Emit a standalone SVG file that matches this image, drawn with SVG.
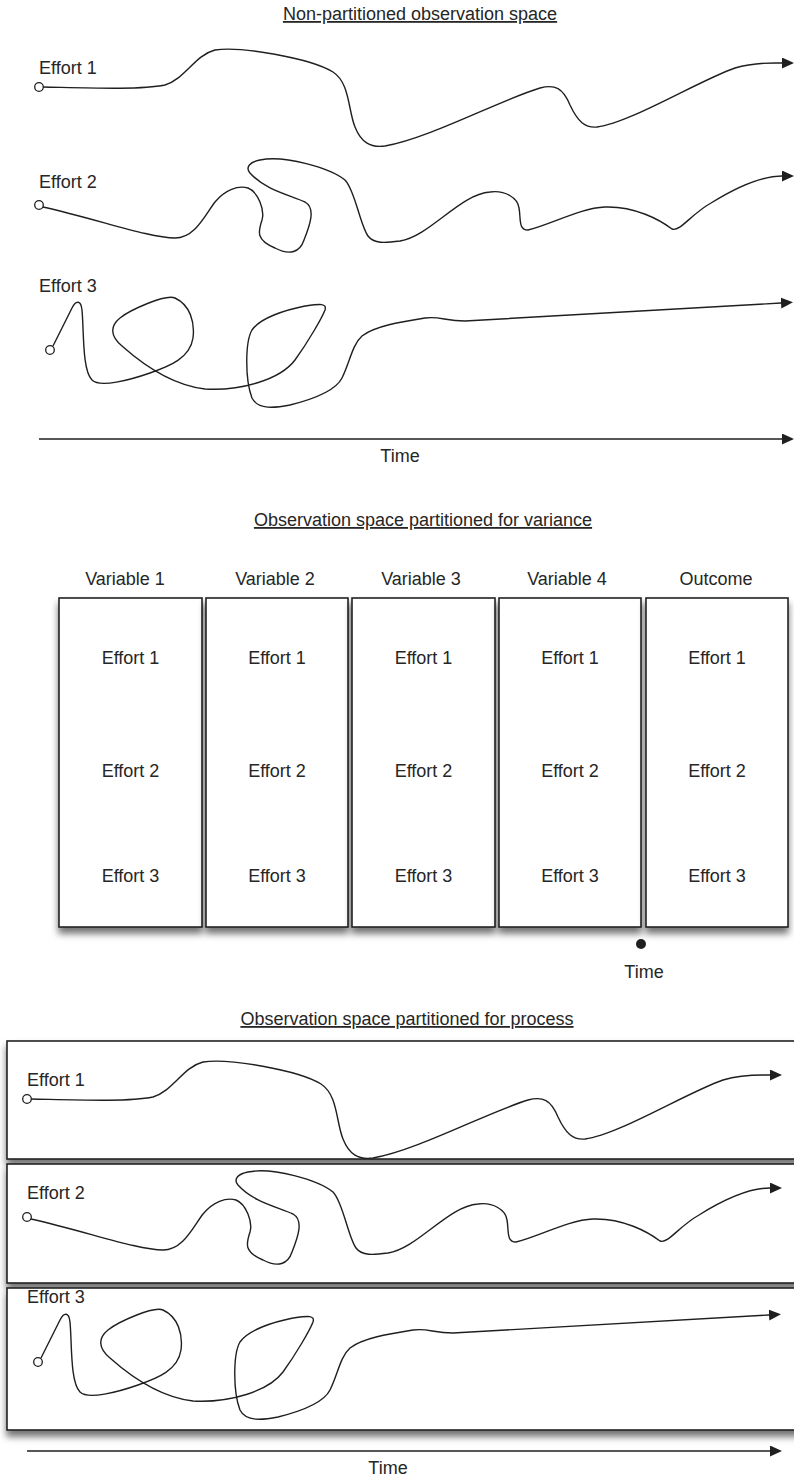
<svg xmlns="http://www.w3.org/2000/svg" xmlns:xlink="http://www.w3.org/1999/xlink" width="794" height="1482" viewBox="0 0 794 1482">
<style>
  text { font-family: "Liberation Sans", Arial, sans-serif; font-size: 18px; fill: #262626; }
  .c { text-anchor: middle; }
  .title { text-anchor: middle; text-decoration: underline; }
  .curve { fill: none; stroke: #1f1f1f; stroke-width: 1.4; stroke-linejoin: round; }
  .arr { marker-end: url(#ah); }
  .start { fill: #fff; stroke: #1f1f1f; stroke-width: 1.3; }
  .box { fill: #fff; stroke: #242424; stroke-width: 1.6; filter: url(#sh); }
</style>
<defs>
  <marker id="ah" markerUnits="userSpaceOnUse" markerWidth="14" markerHeight="12" refX="0" refY="5.5" orient="auto">
    <path d="M0,0 L12,5.5 L0,11 Z" fill="#1f1f1f"/>
  </marker>
  <filter id="sh" x="-5%" y="-5%" width="110%" height="125%">
    <feDropShadow dx="0" dy="6" stdDeviation="3.5" flood-color="#000" flood-opacity="0.55"/>
  </filter>
  <path id="p1" d="M43,87 C90,88 140,90 165,85 C185,79 195,55 215,50 C240,46 310,58 333,72 C350,83 348,110 355,127 C361,142 370,148 385,146 C430,138 500,100 540,88 C555,84 563,88 570,105 C578,122 585,128 597,127 C630,123 700,80 735,68 C755,62 770,63 782,63"/>
  <path id="p2" d="M43,207 C100,220 150,238 175,238 C195,238 205,215 215,202 C225,190 238,185 248,188 C258,192 265,210 262,220 C258,232 256,240 275,248 C290,256 300,252 304,240 C310,225 316,208 305,202 C290,195 265,190 250,173 C245,167 250,162 260,160 C285,155 330,168 345,180 C355,190 360,225 368,236 C374,244 385,243 400,241 C430,236 460,194 490,192 C505,190 518,198 519,208 C521,218 518,230 528,230 C550,225 580,208 605,207 C635,206 660,220 672,229 C680,232 690,215 711,203 C735,188 760,176 782,176"/>
  <path id="p3" d="M53,346 L72,308 C76,300 81,300 82,310 C84,330 82,370 92,380 C100,388 130,380 150,373 C170,366 190,358 193,338 C195,322 190,305 175,298 C165,294 130,310 120,318 C110,326 110,336 122,346 C140,362 170,385 205,389 C240,391 280,380 295,360 C308,342 322,318 325,310 C327,303 320,304 305,306 C285,310 260,318 252,330 C245,342 245,380 252,398 C258,410 275,408 290,405 C310,400 335,392 342,378 C350,362 352,345 362,336 C375,326 400,322 425,318 C440,316 445,321 465,321 L781,303"/>
</defs>
<rect width="794" height="1482" fill="#fff"/>

<!-- ===== Top section: non-partitioned ===== -->
<g id="top-title"><text class="title" x="420" y="20">Non-partitioned observation space</text></g>
<g id="top-effort-1"><text x="39" y="74">Effort 1</text></g>
<g id="top-effort-2"><text x="39" y="188">Effort 2</text></g>
<g id="top-effort-3"><text x="39" y="292">Effort 3</text></g>
<g id="top-connectors">
  <use xlink:href="#p1" class="curve arr"/>
  <use xlink:href="#p2" class="curve arr"/>
  <use xlink:href="#p3" class="curve arr"/>
  <line class="curve arr" x1="39" y1="439" x2="782" y2="439"/>
  <circle class="start" cx="39" cy="87" r="4.3"/>
  <circle class="start" cx="39" cy="205" r="4.3"/>
  <circle class="start" cx="50" cy="350" r="4.3"/>
</g>
<g id="top-time"><text class="c" x="400" y="462">Time</text></g>

<!-- ===== Middle section: partitioned for variance ===== -->
<g id="mid-title"><text class="title" x="423" y="526">Observation space partitioned for variance</text></g>
<g id="col-variable-1">
  <text class="c" x="125" y="585">Variable 1</text>
  <rect class="box" x="59" y="598" width="143" height="329"/>
  <text class="c" x="130.5" y="664">Effort 1</text>
  <text class="c" x="130.5" y="777">Effort 2</text>
  <text class="c" x="130.5" y="882">Effort 3</text>
</g>
<g id="col-variable-2">
  <text class="c" x="275" y="585">Variable 2</text>
  <rect class="box" x="206" y="598" width="142" height="329"/>
  <text class="c" x="277" y="664">Effort 1</text>
  <text class="c" x="277" y="777">Effort 2</text>
  <text class="c" x="277" y="882">Effort 3</text>
</g>
<g id="col-variable-3">
  <text class="c" x="421" y="585">Variable 3</text>
  <rect class="box" x="352" y="598" width="143" height="329"/>
  <text class="c" x="423.5" y="664">Effort 1</text>
  <text class="c" x="423.5" y="777">Effort 2</text>
  <text class="c" x="423.5" y="882">Effort 3</text>
</g>
<g id="col-variable-4">
  <text class="c" x="567" y="585">Variable 4</text>
  <rect class="box" x="499" y="598" width="142" height="329"/>
  <text class="c" x="570" y="664">Effort 1</text>
  <text class="c" x="570" y="777">Effort 2</text>
  <text class="c" x="570" y="882">Effort 3</text>
</g>
<g id="col-outcome">
  <text class="c" x="716" y="585">Outcome</text>
  <rect class="box" x="646" y="598" width="142" height="329"/>
  <text class="c" x="717" y="664">Effort 1</text>
  <text class="c" x="717" y="777">Effort 2</text>
  <text class="c" x="717" y="882">Effort 3</text>
</g>
<g id="mid-time">
  <circle cx="641" cy="944" r="5" fill="#1f1f1f"/>
  <text class="c" x="644" y="978">Time</text>
</g>

<!-- ===== Bottom section: partitioned for process ===== -->
<g id="bot-title"><text class="title" x="407" y="1025">Observation space partitioned for process</text></g>
<g id="lane-effort-1">
  <rect class="box" x="7" y="1041" width="800" height="118"/>
  <text x="27" y="1086">Effort 1</text>
</g>
<g id="lane-effort-2">
  <rect class="box" x="7" y="1164" width="800" height="119"/>
  <text x="27" y="1199">Effort 2</text>
</g>
<g id="lane-effort-3">
  <rect class="box" x="7" y="1288" width="800" height="142"/>
  <text x="27" y="1303">Effort 3</text>
</g>
<g id="bot-connectors" transform="translate(-12,1012)">
  <use xlink:href="#p1" class="curve arr"/>
  <use xlink:href="#p2" class="curve arr"/>
  <use xlink:href="#p3" class="curve arr"/>
  <line class="curve arr" x1="39" y1="439" x2="782" y2="439"/>
  <circle class="start" cx="39" cy="87" r="4.3"/>
  <circle class="start" cx="39" cy="205" r="4.3"/>
  <circle class="start" cx="50" cy="350" r="4.3"/>
</g>
<g id="bot-time"><text class="c" x="388" y="1474">Time</text></g>
</svg>
